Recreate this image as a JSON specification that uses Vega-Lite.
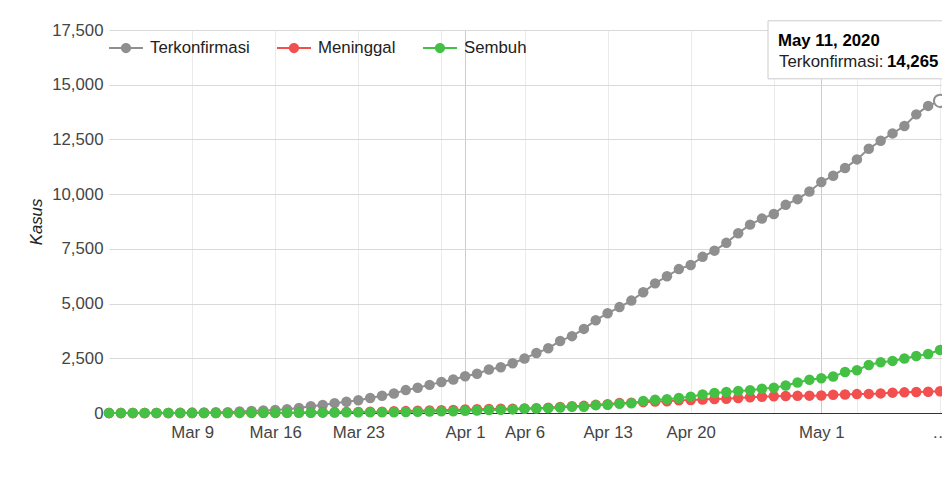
{
  "$schema": "https://vega.github.io/schema/vega-lite/v6.json",
  "width": 833,
  "height": 383,
  "autosize": {"type": "none"},
  "padding": {"left": 109, "top": 30, "right": 0, "bottom": 81},
  "background": "white",
  "config": {
    "font": "Liberation Sans",
    "view": {"stroke": null},
    "legend": {"padding": 0}
  },
  "encoding": {
    "x": {
      "field": "d",
      "type": "temporal",
      "scale": {
        "type": "utc",
        "domain": [
          {"year": 2020, "month": 3, "date": 2, "utc": true},
          {"year": 2020, "month": 5, "date": 11, "hours": 4, "utc": true}
        ]
      },
      "axis": {
        "title": null,
        "values": [
          {"year": 2020, "month": 3, "date": 9, "utc": true},
          {"year": 2020, "month": 3, "date": 16, "utc": true},
          {"year": 2020, "month": 3, "date": 23, "utc": true},
          {"year": 2020, "month": 3, "date": 30, "utc": true},
          {"year": 2020, "month": 4, "date": 1, "utc": true},
          {"year": 2020, "month": 4, "date": 6, "utc": true},
          {"year": 2020, "month": 4, "date": 13, "utc": true},
          {"year": 2020, "month": 4, "date": 20, "utc": true},
          {"year": 2020, "month": 4, "date": 27, "utc": true},
          {"year": 2020, "month": 5, "date": 1, "utc": true},
          {"year": 2020, "month": 5, "date": 4, "utc": true},
          {"year": 2020, "month": 5, "date": 11, "utc": true}
        ],
        "labelExpr": "((utcmonth(datum.value)==2 && utcdate(datum.value)==30) || (utcmonth(datum.value)==3 && utcdate(datum.value)==27) || (utcmonth(datum.value)==4 && utcdate(datum.value)==4)) ? '' : ((utcmonth(datum.value)==4 && utcdate(datum.value)==11) ? '…' : utcFormat(datum.value, '%b %-d'))",
        "labelFontSize": 16.8,
        "labelColor": "#444444",
        "labelPadding": 11,
        "labelOverlap": false,
        "labelFlush": false,
        "ticks": false,
        "domain": false,
        "grid": true,
        "gridColor": {"condition": {"test": "utcdate(datum.value)==1", "value": "#cccccc"}, "value": "#ebebeb"}
      }
    },
    "y": {
      "field": "kasus",
      "type": "quantitative",
      "scale": {"domain": [0, 17500], "nice": false},
      "axis": {
        "title": "Kasus",
        "titleFontStyle": "italic",
        "titleFontWeight": "normal",
        "titleFontSize": 16.8,
        "titleColor": "#222222",
        "titlePadding": 6,
        "values": [0, 2500, 5000, 7500, 10000, 12500, 15000, 17500],
        "format": ",.0f",
        "labelFontSize": 16.8,
        "labelColor": "#444444",
        "labelPadding": 6,
        "ticks": false,
        "domain": false,
        "grid": true,
        "gridColor": {"condition": {"test": "datum.value==0", "value": "#333333"}, "value": "#d9d9d9"}
      }
    }
  },
  "layer": [
    {
      "data": {
        "values": [
          {"d": "2020-03-02", "Terkonfirmasi": 2, "Meninggal": 0, "Sembuh": 0},
          {"d": "2020-03-03", "Terkonfirmasi": 2, "Meninggal": 0, "Sembuh": 0},
          {"d": "2020-03-04", "Terkonfirmasi": 2, "Meninggal": 0, "Sembuh": 0},
          {"d": "2020-03-05", "Terkonfirmasi": 2, "Meninggal": 0, "Sembuh": 0},
          {"d": "2020-03-06", "Terkonfirmasi": 4, "Meninggal": 0, "Sembuh": 0},
          {"d": "2020-03-07", "Terkonfirmasi": 4, "Meninggal": 0, "Sembuh": 0},
          {"d": "2020-03-08", "Terkonfirmasi": 6, "Meninggal": 0, "Sembuh": 0},
          {"d": "2020-03-09", "Terkonfirmasi": 19, "Meninggal": 0, "Sembuh": 0},
          {"d": "2020-03-10", "Terkonfirmasi": 27, "Meninggal": 0, "Sembuh": 2},
          {"d": "2020-03-11", "Terkonfirmasi": 34, "Meninggal": 1, "Sembuh": 2},
          {"d": "2020-03-12", "Terkonfirmasi": 34, "Meninggal": 1, "Sembuh": 3},
          {"d": "2020-03-13", "Terkonfirmasi": 69, "Meninggal": 4, "Sembuh": 5},
          {"d": "2020-03-14", "Terkonfirmasi": 96, "Meninggal": 5, "Sembuh": 8},
          {"d": "2020-03-15", "Terkonfirmasi": 117, "Meninggal": 5, "Sembuh": 8},
          {"d": "2020-03-16", "Terkonfirmasi": 134, "Meninggal": 5, "Sembuh": 8},
          {"d": "2020-03-17", "Terkonfirmasi": 172, "Meninggal": 5, "Sembuh": 9},
          {"d": "2020-03-18", "Terkonfirmasi": 227, "Meninggal": 19, "Sembuh": 11},
          {"d": "2020-03-19", "Terkonfirmasi": 311, "Meninggal": 25, "Sembuh": 15},
          {"d": "2020-03-20", "Terkonfirmasi": 369, "Meninggal": 32, "Sembuh": 16},
          {"d": "2020-03-21", "Terkonfirmasi": 450, "Meninggal": 38, "Sembuh": 20},
          {"d": "2020-03-22", "Terkonfirmasi": 514, "Meninggal": 48, "Sembuh": 29},
          {"d": "2020-03-23", "Terkonfirmasi": 579, "Meninggal": 49, "Sembuh": 30},
          {"d": "2020-03-24", "Terkonfirmasi": 686, "Meninggal": 55, "Sembuh": 30},
          {"d": "2020-03-25", "Terkonfirmasi": 790, "Meninggal": 58, "Sembuh": 31},
          {"d": "2020-03-26", "Terkonfirmasi": 893, "Meninggal": 78, "Sembuh": 35},
          {"d": "2020-03-27", "Terkonfirmasi": 1046, "Meninggal": 87, "Sembuh": 46},
          {"d": "2020-03-28", "Terkonfirmasi": 1155, "Meninggal": 102, "Sembuh": 59},
          {"d": "2020-03-29", "Terkonfirmasi": 1285, "Meninggal": 114, "Sembuh": 64},
          {"d": "2020-03-30", "Terkonfirmasi": 1414, "Meninggal": 122, "Sembuh": 75},
          {"d": "2020-03-31", "Terkonfirmasi": 1528, "Meninggal": 136, "Sembuh": 81},
          {"d": "2020-04-01", "Terkonfirmasi": 1677, "Meninggal": 157, "Sembuh": 103},
          {"d": "2020-04-02", "Terkonfirmasi": 1790, "Meninggal": 170, "Sembuh": 112},
          {"d": "2020-04-03", "Terkonfirmasi": 1986, "Meninggal": 181, "Sembuh": 134},
          {"d": "2020-04-04", "Terkonfirmasi": 2092, "Meninggal": 191, "Sembuh": 150},
          {"d": "2020-04-05", "Terkonfirmasi": 2273, "Meninggal": 198, "Sembuh": 164},
          {"d": "2020-04-06", "Terkonfirmasi": 2491, "Meninggal": 209, "Sembuh": 192},
          {"d": "2020-04-07", "Terkonfirmasi": 2738, "Meninggal": 221, "Sembuh": 204},
          {"d": "2020-04-08", "Terkonfirmasi": 2956, "Meninggal": 240, "Sembuh": 222},
          {"d": "2020-04-09", "Terkonfirmasi": 3293, "Meninggal": 280, "Sembuh": 252},
          {"d": "2020-04-10", "Terkonfirmasi": 3512, "Meninggal": 306, "Sembuh": 282},
          {"d": "2020-04-11", "Terkonfirmasi": 3842, "Meninggal": 327, "Sembuh": 286},
          {"d": "2020-04-12", "Terkonfirmasi": 4241, "Meninggal": 373, "Sembuh": 359},
          {"d": "2020-04-13", "Terkonfirmasi": 4557, "Meninggal": 399, "Sembuh": 380},
          {"d": "2020-04-14", "Terkonfirmasi": 4839, "Meninggal": 459, "Sembuh": 426},
          {"d": "2020-04-15", "Terkonfirmasi": 5136, "Meninggal": 469, "Sembuh": 446},
          {"d": "2020-04-16", "Terkonfirmasi": 5516, "Meninggal": 496, "Sembuh": 548},
          {"d": "2020-04-17", "Terkonfirmasi": 5923, "Meninggal": 520, "Sembuh": 607},
          {"d": "2020-04-18", "Terkonfirmasi": 6248, "Meninggal": 535, "Sembuh": 631},
          {"d": "2020-04-19", "Terkonfirmasi": 6575, "Meninggal": 582, "Sembuh": 686},
          {"d": "2020-04-20", "Terkonfirmasi": 6760, "Meninggal": 590, "Sembuh": 747},
          {"d": "2020-04-21", "Terkonfirmasi": 7135, "Meninggal": 616, "Sembuh": 842},
          {"d": "2020-04-22", "Terkonfirmasi": 7418, "Meninggal": 635, "Sembuh": 913},
          {"d": "2020-04-23", "Terkonfirmasi": 7775, "Meninggal": 647, "Sembuh": 960},
          {"d": "2020-04-24", "Terkonfirmasi": 8211, "Meninggal": 689, "Sembuh": 1002},
          {"d": "2020-04-25", "Terkonfirmasi": 8607, "Meninggal": 720, "Sembuh": 1042},
          {"d": "2020-04-26", "Terkonfirmasi": 8882, "Meninggal": 743, "Sembuh": 1107},
          {"d": "2020-04-27", "Terkonfirmasi": 9096, "Meninggal": 765, "Sembuh": 1151},
          {"d": "2020-04-28", "Terkonfirmasi": 9511, "Meninggal": 773, "Sembuh": 1254},
          {"d": "2020-04-29", "Terkonfirmasi": 9771, "Meninggal": 784, "Sembuh": 1391},
          {"d": "2020-04-30", "Terkonfirmasi": 10118, "Meninggal": 792, "Sembuh": 1522},
          {"d": "2020-05-01", "Terkonfirmasi": 10551, "Meninggal": 800, "Sembuh": 1591},
          {"d": "2020-05-02", "Terkonfirmasi": 10843, "Meninggal": 831, "Sembuh": 1665},
          {"d": "2020-05-03", "Terkonfirmasi": 11192, "Meninggal": 845, "Sembuh": 1876},
          {"d": "2020-05-04", "Terkonfirmasi": 11587, "Meninggal": 864, "Sembuh": 1954},
          {"d": "2020-05-05", "Terkonfirmasi": 12071, "Meninggal": 872, "Sembuh": 2197},
          {"d": "2020-05-06", "Terkonfirmasi": 12438, "Meninggal": 895, "Sembuh": 2317},
          {"d": "2020-05-07", "Terkonfirmasi": 12776, "Meninggal": 930, "Sembuh": 2381},
          {"d": "2020-05-08", "Terkonfirmasi": 13112, "Meninggal": 943, "Sembuh": 2494},
          {"d": "2020-05-09", "Terkonfirmasi": 13645, "Meninggal": 959, "Sembuh": 2607},
          {"d": "2020-05-10", "Terkonfirmasi": 14032, "Meninggal": 973, "Sembuh": 2698},
          {"d": "2020-05-11", "Terkonfirmasi": 14265, "Meninggal": 991, "Sembuh": 2881}
        ]
      },
      "transform": [
        {"fold": ["Terkonfirmasi", "Meninggal", "Sembuh"], "as": ["seri", "kasus"]}
      ],
      "encoding": {
        "color": {
          "field": "seri",
          "type": "nominal",
          "scale": {
            "domain": ["Terkonfirmasi", "Meninggal", "Sembuh"],
            "range": ["#8f8f8f", "#f24f4f", "#44c144"]
          },
          "legend": {
            "title": null,
            "orient": "none",
            "legendX": 0,
            "legendY": 1,
            "direction": "horizontal",
            "symbolType": "M-1,-0.06 H1 V0.06 H-1 Z M0.3,0 A0.3,0.3 0 1,1 -0.3,0 A0.3,0.3 0 1,1 0.3,0 Z",
            "symbolSize": 1156,
            "symbolStrokeWidth": 0,
            "labelFontSize": 16.8,
            "labelColor": "#222222",
            "labelOffset": 7,
            "columnPadding": 27,
            "encode": {
              "symbols": {
                "update": {
                  "fill": {"scale": "color", "field": "value"},
                  "opacity": {"value": 1},
                  "strokeWidth": {"value": 0}
                }
              }
            }
          }
        }
      },
      "layer": [
        {
          "transform": [{"filter": "datum.seri == 'Terkonfirmasi'"}],
          "mark": {"type": "line", "strokeWidth": 2, "point": {"filled": true, "size": 110, "opacity": 1}}
        },
        {
          "transform": [{"filter": "datum.seri == 'Meninggal'"}],
          "mark": {"type": "line", "strokeWidth": 2, "point": {"filled": true, "size": 110, "opacity": 1}}
        },
        {
          "transform": [{"filter": "datum.seri == 'Sembuh'"}],
          "mark": {"type": "line", "strokeWidth": 2, "point": {"filled": true, "size": 110, "opacity": 1}}
        }
      ]
    },
    {
      "data": {
        "values": [
          {"d": "2020-05-11", "kasus": 14265, "judul": "May 11, 2020", "label": "Terkonfirmasi:", "nilai": "14,265"}
        ]
      },
      "layer": [
        {
          "mark": {"type": "point", "filled": true, "size": 150, "fill": "white", "stroke": "#8f8f8f", "strokeWidth": 2, "opacity": 1}
        },
        {
          "mark": {"type": "rect", "fill": "white", "stroke": "#cccccc", "strokeWidth": 1, "xOffset": -172, "x2Offset": 12, "yOffset": -80, "y2Offset": -22},
          "encoding": {"x2": {"field": "d"}, "y2": {"field": "kasus"}}
        },
        {
          "mark": {"type": "text", "align": "left", "baseline": "alphabetic", "fontSize": 16.8, "fontWeight": "bold", "color": "#000000", "dx": -162, "dy": -55},
          "encoding": {"text": {"field": "judul"}}
        },
        {
          "mark": {"type": "text", "align": "left", "baseline": "alphabetic", "fontSize": 16.8, "color": "#222222", "dx": -161, "dy": -34},
          "encoding": {"text": {"field": "label"}}
        },
        {
          "mark": {"type": "text", "align": "left", "baseline": "alphabetic", "fontSize": 16.8, "fontWeight": "bold", "color": "#000000", "dx": -53, "dy": -34},
          "encoding": {"text": {"field": "nilai"}}
        }
      ]
    }
  ]
}
